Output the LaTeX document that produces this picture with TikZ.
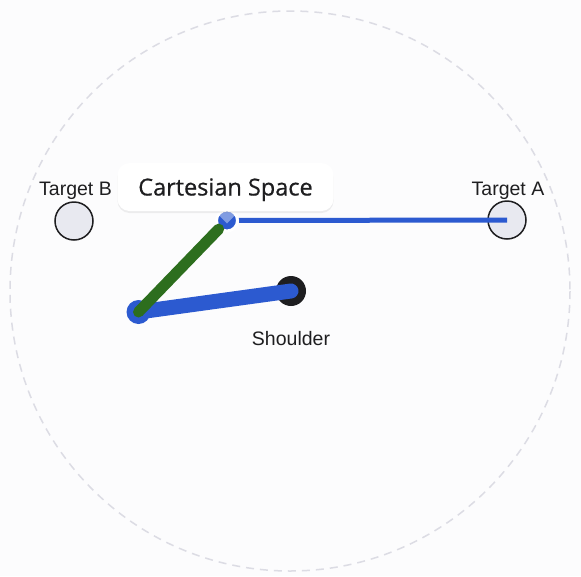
\documentclass[tikz,border=0pt]{standalone}
\usepackage{fontspec}
\setmainfont{Liberation Sans}
\newfontfamily\tipfont[FakeBold=0.6]{Open Sans}
\usetikzlibrary{shadows}
\definecolor{bggray}{RGB}{252,252,253}
\definecolor{armblue}{RGB}{44,90,208}
\definecolor{armgreen}{RGB}{45,110,30}
\definecolor{inkblack}{RGB}{30,30,32}
\definecolor{targetgray}{RGB}{232,233,240}
\definecolor{dashgray}{RGB}{220,220,228}

\begin{document}
\begin{tikzpicture}[x=1pt, y=-1pt,
  target/.style={circle, draw=inkblack, line width=1.5pt, fill=targetgray, minimum size=38pt, inner sep=0pt},
  joint/.style={circle, inner sep=0pt},
  tag/.style={font=\fontsize{19.5}{22}\selectfont, text=inkblack, anchor=base},
  tooltip/.style={fill=white, rounded corners=12pt, minimum width=216pt, minimum height=48pt, inner sep=0pt,
    text height=17pt, text depth=0pt, font=\tipfont\fontsize{23.5}{26}\selectfont, text=inkblack,
    drop shadow={opacity=0.12, shadow xshift=0pt, shadow yshift=-2pt}}]
\useasboundingbox[fill=bggray] (0,0) rectangle (581,576);
% Reach boundary
\draw[dashgray, line width=1.5pt, dash pattern=on 8pt off 6pt] (290,291) circle[radius=280];

% Targets
\node[target] (targetA) at (507,220) {};
\node[target] (targetB) at (74,221) {};

% Arm
\node[joint, fill=inkblack, minimum size=30pt] (shoulder) at (291,291) {};
\draw[armblue, line width=15pt, line cap=round] (shoulder.center) -- (138.5,312);
\node[joint, fill=armblue, minimum size=24pt] (elbow) at (138.5,312) {};
\node[joint, fill=armblue, draw=white, line width=3pt, minimum size=21pt] (effector) at (227,220.5) {};
\draw[armgreen, line width=11pt, line cap=round] (elbow.center) -- (effector);
\draw[armblue, line width=5pt] (effector) -- (targetA.center);
\begin{scope}
  \clip (effector.center) circle[radius=9];
  \fill[white, opacity=0.4] (214,210) -- (240,210) -- (227,223.5) -- cycle;
\end{scope}

% Labels
\node[tag] (tagA) at (508,195) {Target A};
\node[tag] (tagB) at (75.5,195) {Target B};
\node[tag] (tagS) at (291,345.5) {Shoulder};
\node[tooltip] (tip) at (225.5,187) {Cartesian Space};
\end{tikzpicture}
\end{document}
